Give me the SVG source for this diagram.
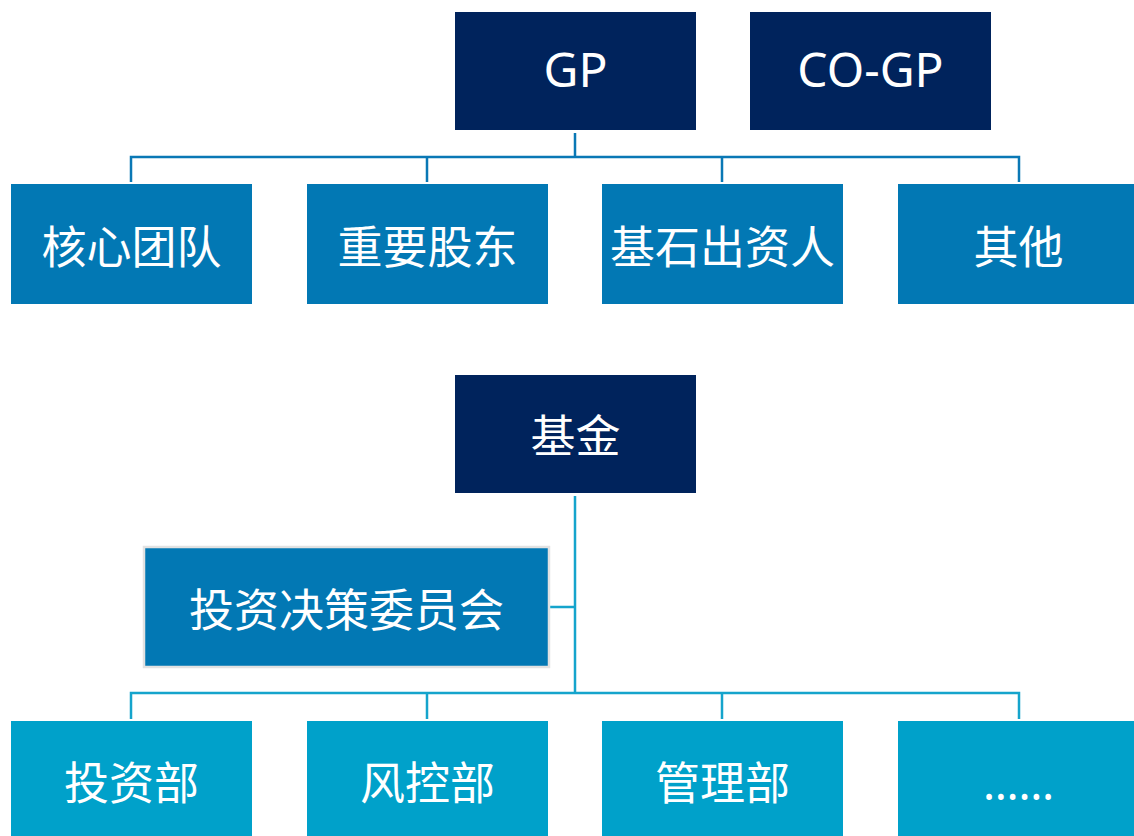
<svg xmlns="http://www.w3.org/2000/svg" width="1134" height="836" viewBox="0 0 1134 836">
<style>
.t{font-family:"Noto Sans","Noto Sans CJK SC",sans-serif;font-size:45px;fill:#fff;text-anchor:middle}
.lat{font-size:48px}
.navy{fill:#00235C}
.mid{fill:#0278B4}
.light{fill:#00A1CA}
.c1{fill:none;stroke:#0A78B5;stroke-width:2.5}
.c2{fill:none;stroke:#15A4CC;stroke-width:2.5}
</style>
<rect width="1134" height="836" fill="#fff"/>
<g id="connectors">
<path class="c1" d="M575 133V157M131 182V157H1019V182M427 157V182M722 157V182"/>
<path class="c2" d="M575 496V693M550 607H575M131 719V693H1019V719M427 693V719M722 693V719"/>
</g>
<g id="gp"><rect class="navy" x="455" y="12" width="241" height="118"/><text class="t lat" x="575.5" y="87">GP</text></g>
<g id="cogp"><rect class="navy" x="750" y="12" width="241" height="118"/><text class="t lat" x="870.5" y="87">CO-GP</text></g>
<g id="core"><rect class="mid" x="11" y="184" width="241" height="120"/><text class="t" x="131.5" y="264">核心团队</text></g>
<g id="shareholder"><rect class="mid" x="307" y="184" width="241" height="120"/><text class="t" x="427.5" y="264">重要股东</text></g>
<g id="cornerstone"><rect class="mid" x="602" y="184" width="241" height="120"/><text class="t" x="722.5" y="264">基石出资人</text></g>
<g id="other"><rect class="mid" x="898" y="184" width="241" height="120"/><text class="t" x="1018.5" y="264">其他</text></g>
<g id="fund"><rect class="navy" x="455" y="375" width="241" height="118"/><text class="t" x="575.5" y="453">基金</text></g>
<g id="committee"><rect class="mid" x="144" y="547" width="405" height="120" stroke="#E2E2E2" stroke-width="2.5"/><text class="t" x="346.5" y="627">投资决策委员会</text></g>
<g id="invest"><rect class="light" x="11" y="721" width="241" height="120"/><text class="t" x="131.5" y="800">投资部</text></g>
<g id="risk"><rect class="light" x="307" y="721" width="241" height="120"/><text class="t" x="427.5" y="800">风控部</text></g>
<g id="mgmt"><rect class="light" x="602" y="721" width="241" height="120"/><text class="t" x="722.5" y="800">管理部</text></g>
<g id="more"><rect class="light" x="898" y="721" width="241" height="120"/><text class="t" x="1018.5" y="800">……</text></g>
</svg>
